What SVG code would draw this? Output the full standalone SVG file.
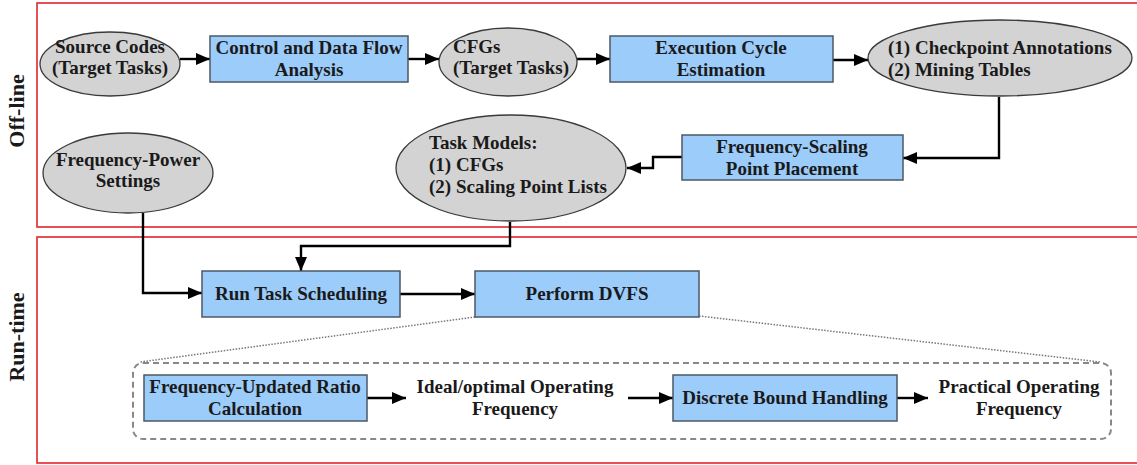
<svg xmlns="http://www.w3.org/2000/svg" width="1137" height="465" viewBox="0 0 1137 465">
  <style>
    text { font-family: "Liberation Serif", "Times New Roman", serif; font-weight: bold; fill: #1a1a1a; }
    .lbl { font-size: 19px; }
    .mid { text-anchor: middle; }
    .phase { font-size: 22px; text-anchor: middle; }
    .frame { fill: none; stroke: #e0262b; stroke-width: 1.6; }
    .box { fill: #9cccfa; stroke: #4b5866; stroke-width: 1.5; }
    .ell { fill: #d3d3d3; stroke: #3a3a3a; stroke-width: 1.3; }
    .edge { fill: none; stroke: #000; stroke-width: 2.4; }
    .dot { fill: none; stroke: #777; stroke-width: 1.5; stroke-dasharray: 1.5 1.5; }
    .group { fill: none; stroke: #888; stroke-width: 2; stroke-dasharray: 6 4; }
  </style>
  <defs>
    <marker id="arrow" viewBox="0 0 14 12" refX="14" refY="6" markerWidth="14" markerHeight="12" markerUnits="userSpaceOnUse" orient="auto">
      <path d="M0,0 L14,6 L0,12 z" fill="#000"/>
    </marker>
  </defs>

  <rect width="1137" height="465" fill="#fff"/>

  <!-- phase frames -->
  <g id="offline-frame">
    <rect class="frame" x="37" y="3" width="1110" height="224"/>
    <text class="phase" transform="translate(24,111) rotate(-90)">Off-line</text>
  </g>
  <g id="runtime-frame">
    <rect class="frame" x="37" y="237" width="1110" height="226"/>
    <text class="phase" transform="translate(24,337) rotate(-90)">Run-time</text>
  </g>

  <!-- connectors -->
  <g id="connectors">
    <path class="edge" d="M180,59 H210" marker-end="url(#arrow)"/>
    <path class="edge" d="M408,59 H439" marker-end="url(#arrow)"/>
    <path class="edge" d="M577,59 H610" marker-end="url(#arrow)"/>
    <path class="edge" d="M833,60 H868" marker-end="url(#arrow)"/>
    <path class="edge" d="M999,97 V158 H903" marker-end="url(#arrow)"/>
    <path class="edge" d="M682,157 H653 V168 H627" marker-end="url(#arrow)"/>
    <path class="edge" d="M143,213 V293 H202" marker-end="url(#arrow)"/>
    <path class="edge" d="M510,222 V246 H301 V271" marker-end="url(#arrow)"/>
    <path class="edge" d="M400,294 H475" marker-end="url(#arrow)"/>
    <path class="edge" d="M367,398 H406" marker-end="url(#arrow)"/>
    <path class="edge" d="M628,398 H673" marker-end="url(#arrow)"/>
    <path class="edge" d="M897,398 H928" marker-end="url(#arrow)"/>
    <path class="dot" d="M475,317 L140,362"/>
    <path class="dot" d="M699,316 L1100,362"/>
  </g>

  <!-- off-line nodes -->
  <g id="source-codes">
    <ellipse class="ell" cx="110" cy="64" rx="70" ry="32"/>
    <text class="lbl mid" x="110" y="53">Source Codes</text>
    <text class="lbl mid" x="110" y="74">(Target Tasks)</text>
  </g>
  <g id="cdf-analysis">
    <rect class="box" x="210" y="36" width="198" height="46"/>
    <text class="lbl mid" x="309" y="54">Control and Data Flow</text>
    <text class="lbl mid" x="309" y="76">Analysis</text>
  </g>
  <g id="cfgs">
    <ellipse class="ell" cx="508" cy="62" rx="69" ry="34"/>
    <text class="lbl" x="453" y="53">CFGs</text>
    <text class="lbl" x="453" y="74">(Target Tasks)</text>
  </g>
  <g id="cycle-estimation">
    <rect class="box" x="610" y="36" width="223" height="46"/>
    <text class="lbl mid" x="721" y="54">Execution Cycle</text>
    <text class="lbl mid" x="721" y="76">Estimation</text>
  </g>
  <g id="checkpoints">
    <ellipse class="ell" cx="1000" cy="58" rx="132" ry="38"/>
    <text class="lbl" x="888" y="54">(1) Checkpoint Annotations</text>
    <text class="lbl" x="888" y="76">(2) Mining Tables</text>
  </g>
  <g id="scaling-placement">
    <rect class="box" x="682" y="135" width="221" height="45"/>
    <text class="lbl mid" x="792" y="153">Frequency-Scaling</text>
    <text class="lbl mid" x="792" y="175">Point Placement</text>
  </g>
  <g id="task-models">
    <ellipse class="ell" cx="511" cy="168" rx="115" ry="53"/>
    <text class="lbl" x="429" y="149">Task Models:</text>
    <text class="lbl" x="429" y="171">(1) CFGs</text>
    <text class="lbl" x="429" y="193">(2) Scaling Point Lists</text>
  </g>
  <g id="freq-power">
    <ellipse class="ell" cx="128" cy="173" rx="85" ry="40"/>
    <text class="lbl mid" x="128" y="166">Frequency-Power</text>
    <text class="lbl mid" x="128" y="187">Settings</text>
  </g>

  <!-- run-time nodes -->
  <g id="task-scheduling">
    <rect class="box" x="202" y="271" width="198" height="46"/>
    <text class="lbl mid" x="301" y="300">Run Task Scheduling</text>
  </g>
  <g id="perform-dvfs">
    <rect class="box" x="475" y="271" width="224" height="46"/>
    <text class="lbl mid" x="587" y="300">Perform DVFS</text>
  </g>
  <g id="dvfs-detail">
    <rect class="group" x="133" y="363" width="978" height="76" rx="10" ry="10"/>
  </g>
  <g id="ratio-calc">
    <rect class="box" x="144" y="375" width="223" height="46"/>
    <text class="lbl mid" x="255" y="393">Frequency-Updated Ratio</text>
    <text class="lbl mid" x="255" y="415">Calculation</text>
  </g>
  <g id="ideal-freq">
    <text class="lbl mid" x="515" y="393">Ideal/optimal Operating</text>
    <text class="lbl mid" x="515" y="415">Frequency</text>
  </g>
  <g id="bound-handling">
    <rect class="box" x="673" y="375" width="224" height="46"/>
    <text class="lbl mid" x="785" y="404">Discrete Bound Handling</text>
  </g>
  <g id="practical-freq">
    <text class="lbl mid" x="1019" y="393">Practical Operating</text>
    <text class="lbl mid" x="1019" y="415">Frequency</text>
  </g>
</svg>
